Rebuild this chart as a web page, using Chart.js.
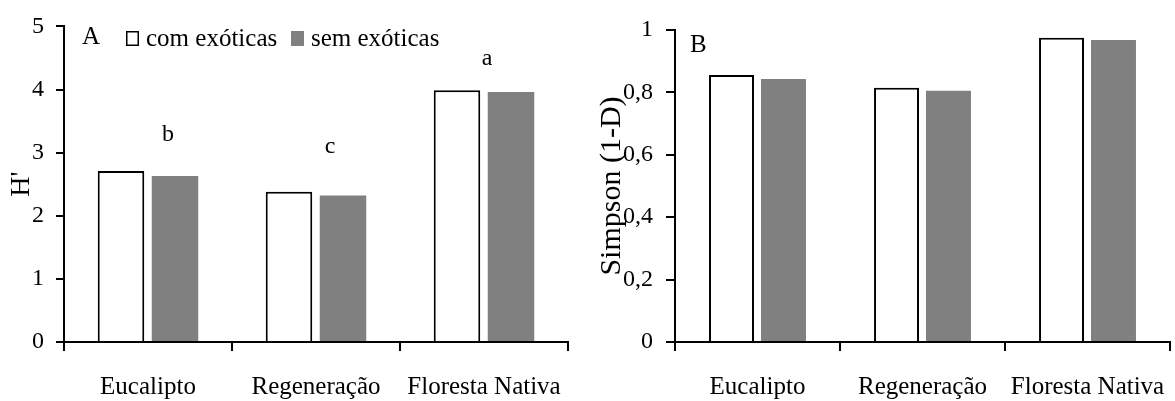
<!DOCTYPE html>
<html>
<head>
<meta charset="utf-8">
<script src="https://cdn.jsdelivr.net/npm/chart.js@4/dist/chart.umd.min.js"></script>
<style>
  html, body { margin: 0; padding: 0; background: #fff; }
  #wrap { position: relative; width: 1175px; height: 401px; overflow: hidden; }
  canvas { position: absolute; top: 0; }
  #cA { left: 0; }
  #cB { left: 590px; }
</style>
</head>
<body>
<div id="wrap">
  <canvas id="cA" width="590" height="401"></canvas>
  <canvas id="cB" width="585" height="401"></canvas>
</div>
<script>
// Áreas amostradas
const categories = ['Eucalipto', 'Regeneração', 'Floresta Nativa'];
const seriesNames = ['com exóticas', 'sem exóticas'];

// Painel A: índice de Shannon (H')
const shannonCom = [2.71, 2.38, 3.99];
const shannonSem = [2.63, 2.32, 3.96];
const shannonTicks = ['0', '1', '2', '3', '4', '5'];
// Letras do teste de comparação e altura (em H') onde ficam
const letters = ['b', 'c', 'a'];
const letterLevels = [3.19, 2.99, 4.39];

// Painel B: índice de Simpson (1-D)
const simpsonCom = [0.856, 0.815, 0.975];
const simpsonSem = [0.843, 0.805, 0.968];
const simpsonTicks = ['0', '0,2', '0,4', '0,6', '0,8', '1'];

const SERIF = '"Liberation Serif", "Times New Roman", serif';
const WHITE = '#ffffff';
const GREY = '#808080';
const INK = '#000000';

function datasets(com, sem) {
  return [
    { label: seriesNames[0], data: com, backgroundColor: WHITE, borderColor: INK, borderWidth: 2 },
    { label: seriesNames[1], data: sem, backgroundColor: GREY, borderColor: GREY, borderWidth: 0 }
  ];
}

// Texto extra: letra do painel, legenda e letras de significância
function overlayPlugin(cfg) {
  return {
    id: 'overlay',
    afterDatasetsDraw(chart) {
      const ctx = chart.ctx;
      const area = chart.chartArea;
      ctx.save();
      ctx.fillStyle = INK;
      ctx.textAlign = 'left';
      ctx.textBaseline = 'alphabetic';
      ctx.font = '25px ' + SERIF;
      ctx.fillText(cfg.panel, area.left + cfg.panelDx, cfg.panelY);

      if (cfg.legend) {
        const L = cfg.legend;
        chart.data.datasets.forEach((ds, i) => {
          const bx = L.boxX[i];
          ctx.fillStyle = ds.backgroundColor;
          ctx.fillRect(bx, L.boxY, L.boxW, L.boxH);
          if (ds.borderWidth) {
            ctx.strokeStyle = INK;
            ctx.lineWidth = 1.5;
            ctx.strokeRect(bx + 0.75, L.boxY + 0.75, L.boxW - 1.5, L.boxH - 1.5);
          }
          ctx.fillStyle = INK;
          ctx.font = '25px ' + SERIF;
          ctx.fillText(ds.label, L.textX[i], L.textY);
        });
      }

      if (cfg.letters) {
        const xs = chart.scales.x, ys = chart.scales.y;
        ctx.textAlign = 'center';
        ctx.font = '24px ' + SERIF;
        cfg.letters.forEach((t, i) => {
          const x = xs.getPixelForValue(i) + cfg.letterDx[i];
          const y = ys.getPixelForValue(cfg.letterLevels[i]);
          ctx.fillText(t, x, y);
        });
      }
      ctx.restore();
    }
  };
}

function makeChart(el, opts) {
  const box = opts.box;
  return new Chart(el, {
    type: 'bar',
    data: { labels: categories, datasets: datasets(opts.com, opts.sem) },
    options: {
      responsive: false,
      animation: false,
      devicePixelRatio: 1,
      layout: { padding: { left: 0, right: el.width - box.right, top: box.top, bottom: 0 } },
      plugins: { legend: { display: false }, tooltip: { enabled: false } },
      datasets: { bar: { categoryPercentage: opts.catPct, barPercentage: opts.barPct, borderSkipped: 'start' } },
      scales: {
        x: {
          offset: true,
          grid: { offset: true, drawOnChartArea: false, drawTicks: true, tickLength: opts.xTick, color: INK, lineWidth: 2 },
          border: { display: true, color: INK, width: 2 },
          // tall line box drops the labels below the tick marks without widening the side padding
          ticks: { color: INK, font: { family: SERIF, size: 25, lineHeight: 2.8 }, padding: 1, maxRotation: 0, autoSkip: false },
          afterFit(s) { s.height = 401 - box.bottom; }
        },
        y: {
          min: 0,
          max: opts.max,
          ticks: {
            stepSize: opts.step,
            color: INK,
            font: { family: SERIF, size: 24 },
            padding: opts.yPad,
            callback: (v, i) => opts.tickLabels[i]
          },
          grid: { drawOnChartArea: false, drawTicks: true, tickLength: opts.yTick, color: INK, lineWidth: 2 },
          border: { display: true, color: INK, width: 2 },
          title: { display: true, text: opts.title, color: INK, font: { family: SERIF, size: opts.titleSize }, padding: { top: opts.titlePad, bottom: 0 } },
          afterFit(s) { s.width = box.left; }
        }
      }
    },
    plugins: [overlayPlugin(opts.overlay)]
  });
}

makeChart(document.getElementById('cA'), {
  com: shannonCom, sem: shannonSem, max: 5, step: 1, tickLabels: shannonTicks,
  title: "H'", titleSize: 28, titlePad: 5, yPad: 12, yTick: 8, xTick: 9,
  box: { left: 64, right: 568, top: 21, bottom: 342 },
  catPct: 0.643, barPct: 0.861,
  overlay: {
    panel: 'A', panelDx: 18, panelY: 44,
    legend: { boxX: [126, 291], boxY: 31, boxW: 13, boxH: 15, textX: [146, 311], textY: 46 },
    letters: letters, letterLevels: letterLevels, letterDx: [20, 14, 3]
  }
});

makeChart(document.getElementById('cB'), {
  com: simpsonCom, sem: simpsonSem, max: 1, step: 0.2, tickLabels: simpsonTicks,
  title: 'Simpson (1-D)', titleSize: 30, titlePad: 4, yPad: 13, yTick: 9, xTick: 9,
  box: { left: 85, right: 580, top: 30, bottom: 342 },
  catPct: 0.63, barPct: 0.865,
  overlay: { panel: 'B', panelDx: 15, panelY: 52 }
});
</script>
</body>
</html>
